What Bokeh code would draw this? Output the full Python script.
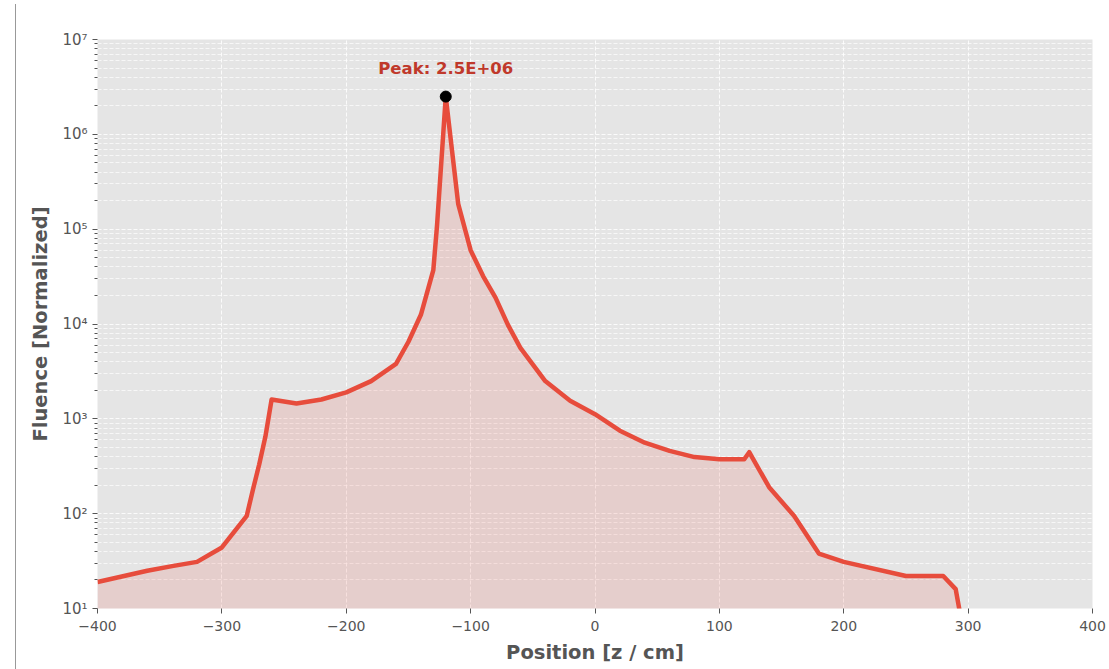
from bokeh.plotting import figure
from bokeh.models import (ColumnDataSource, Label, CustomJSTickFormatter,
                          FixedTicker)
from bokeh.embed import file_html
from bokeh.resources import INLINE

# Axial fluence profile (normalized), position in cm
position = [-400, -360, -340, -320, -300, -280, -275, -270, -265, -260,
            -240, -220, -200, -180, -160, -150, -140, -130, -127, -120,
            -110, -100, -90, -80, -70, -60, -40, -20, 0, 20,
            40, 60, 80, 100, 120, 124, 140, 160, 180, 200,
            250, 280, 290, 300]
fluence = [19, 25, 28, 31, 44, 95, 180, 330, 650, 1600,
           1450, 1600, 1900, 2500, 3800, 6500, 12500, 37000, 110000, 2.5e6,
           1.85e5, 6.0e4, 3.2e4, 1.9e4, 9800, 5600, 2500, 1550, 1120, 750,
           560, 460, 395, 375, 375, 445, 190, 95, 38, 31,
           22, 22, 16, 3]

x_ticks = [-400, -300, -200, -100, 0, 100, 200, 300, 400]
y_decades = [1e1, 1e2, 1e3, 1e4, 1e5, 1e6, 1e7]
floor_value = 1.0

LINE = "#E74C3C"
PEAK_TEXT = "#C0392B"
TEXT = "#555555"
FONT = "DejaVu Sans"

src = ColumnDataSource(dict(z=position, f=fluence,
                            base=[floor_value] * len(position)))

p = figure(width=1109, height=669, y_axis_type="log",
           x_range=(-400, 400), y_range=(1e1, 1e7),
           output_backend="svg", toolbar_location=None, title=None,
           min_border_left=97, min_border_right=17,
           min_border_top=39, min_border_bottom=61)

p.background_fill_color = "#E5E5E5"
p.border_fill_color = None
p.outline_line_color = None
# white page with a thin edge rule on the left
p.styles = {
    "background": "linear-gradient(#999999, #999999) 15px 4px / 1px 665px no-repeat, white",
}

# shaded area under the profile and the profile itself
p.varea(x="z", y1="base", y2="f", source=src, fill_color=LINE, fill_alpha=0.15)
p.line(x="z", y="f", source=src, line_color=LINE, line_width=4.5,
       line_join="round")

# peak marker and annotation
peak_i = max(range(len(fluence)), key=lambda i: fluence[i])
peak_z, peak_f = position[peak_i], fluence[peak_i]
p.scatter([peak_z], [peak_f], size=11, color="black")
p.add_layout(Label(x=peak_z, y=peak_f, y_offset=28,
                   text=f"Peak: {peak_f:.1E}", text_align="center",
                   text_baseline="middle", text_color=PEAK_TEXT,
                   text_font=FONT, text_font_style="bold",
                   text_font_size="16.5px"))

# grids
for g in (p.xgrid, p.ygrid):
    g.grid_line_color = "white"
    g.grid_line_dash = "4 2"
    g.grid_line_alpha = 0.85
    g.grid_line_width = 1
p.ygrid.minor_grid_line_color = "white"
p.ygrid.minor_grid_line_dash = "4 2"
p.ygrid.minor_grid_line_alpha = 0.7

# axes
minor = [m * d for d in y_decades[:-1] for m in range(2, 10)]
p.yaxis.ticker = FixedTicker(ticks=y_decades, minor_ticks=minor)
p.xaxis.ticker = FixedTicker(ticks=x_ticks)
p.yaxis.formatter = CustomJSTickFormatter(code="""
    const sup = {"0":"\u2070","1":"\u00b9","2":"\u00b2","3":"\u00b3","4":"\u2074",
                 "5":"\u2075","6":"\u2076","7":"\u2077","8":"\u2078","9":"\u2079","-":"\u207b"};
    const e = Math.round(Math.log10(tick));
    return "10" + String(e).split("").map(c => sup[c]).join("");
""")
p.xaxis.formatter = CustomJSTickFormatter(code="""
    return tick < 0 ? "\u2212" + Math.abs(tick) : String(tick);
""")

for ax in (p.xaxis[0], p.yaxis[0]):
    ax.axis_line_color = None
    ax.major_tick_line_color = TEXT
    ax.major_tick_in = 0
    ax.major_tick_out = 5
    ax.minor_tick_line_color = TEXT
    ax.minor_tick_in = 0
    ax.minor_tick_out = 3
    ax.major_label_text_color = TEXT
    ax.major_label_text_font = FONT
    ax.major_label_text_font_size = "14px"
    ax.axis_label_text_color = TEXT
    ax.axis_label_text_font = FONT
    ax.axis_label_text_font_style = "bold"
    ax.axis_label_text_font_size = "19.5px"
p.xaxis.minor_tick_line_color = None
p.yaxis.major_label_text_font_size = "15px"

p.xaxis.axis_label = "Position [z / cm]"
p.yaxis.axis_label = "Fluence [Normalized]"
p.xaxis.major_label_standoff = 7
p.yaxis.major_label_standoff = 5
p.xaxis.axis_label_standoff = 7
p.yaxis.axis_label_standoff = 7

open("out.html", "w").write(file_html(p, INLINE))
